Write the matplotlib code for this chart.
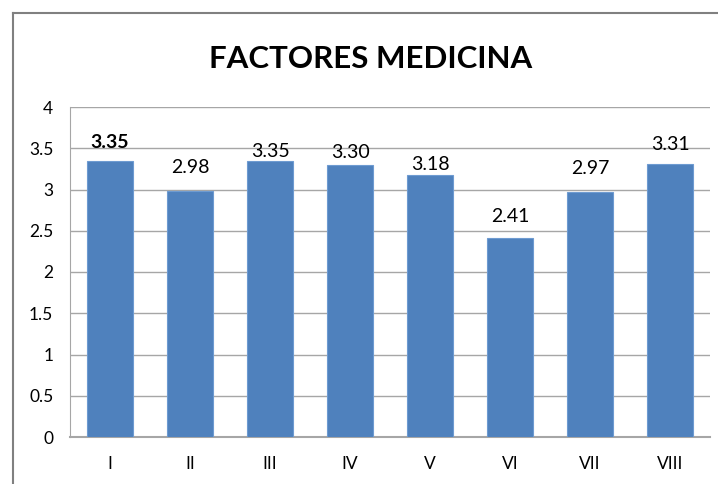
import matplotlib.pyplot as plt
from matplotlib.lines import Line2D

# datos del grafico
categorias = ["I", "II", "III", "IV", "V", "VI", "VII", "VIII"]
valores = [3.35, 2.98, 3.35, 3.30, 3.18, 2.41, 2.97, 3.31]
etiquetas = ["3.35", "2.98", "3.35", "3.30", "3.18", "2.41", "2.97", "3.31"]

# desplazamiento vertical de cada etiqueta (pixeles sobre la barra)
desplaz = [10, 15, 1, 4, 2, 13, 15, 11]

plt.rcParams["font.family"] = ["Lato", "DejaVu Sans"]

fig = plt.figure(figsize=(7.18, 4.84), dpi=100)
ax = fig.add_axes([70 / 718, 47 / 484, 640 / 718, 330 / 484])

x = range(len(categorias))
barras = ax.bar(x, valores, width=0.57, color="#4F81BD", edgecolor="#6E9BD1",
                linewidth=0.8, zorder=3)

for i, b in enumerate(barras):
    peso = "bold" if i == 0 else "normal"
    ax.annotate(etiquetas[i], (b.get_x() + b.get_width() / 2, b.get_height()),
                xytext=(0, desplaz[i]), textcoords="offset pixels",
                ha="center", va="bottom", fontsize=14, fontweight=peso,
                color="black", zorder=4)

ax.set_xlim(-0.5, len(categorias) - 0.5)
ax.set_ylim(0, 4)
ax.set_yticks([0, 0.5, 1, 1.5, 2, 2.5, 3, 3.5, 4])
ax.set_yticklabels(["0", "0.5", "1", "1.5", "2", "2.5", "3", "3.5", "4"])
ax.set_xticks(list(x))
ax.set_xticklabels(categorias)
ax.tick_params(axis="y", length=0, pad=12, labelsize=12.5)
ax.tick_params(axis="x", length=0, pad=14, labelsize=12.5)

ax.grid(axis="y", color="#A6A6A6", linewidth=1, zorder=0)
for lado in ["top", "right"]:
    ax.spines[lado].set_visible(False)
ax.spines["left"].set_color("#A6A6A6")
ax.spines["bottom"].set_color("#A6A6A6")
ax.spines["bottom"].set_linewidth(1.5)

# marco exterior del grafico
fig.add_artist(Line2D([13 / 718, 13 / 718], [0, 1 - 13 / 484], color="#808080", linewidth=1.5))
fig.add_artist(Line2D([13 / 718, 1], [1 - 13 / 484, 1 - 13 / 484], color="#808080", linewidth=1.5))

fig.text(371 / 718, 1 - 68 / 484, "FACTORES MEDICINA", ha="center", va="baseline",
         fontsize=22.5, fontweight="bold")

fig.savefig("out.png", dpi=100)
